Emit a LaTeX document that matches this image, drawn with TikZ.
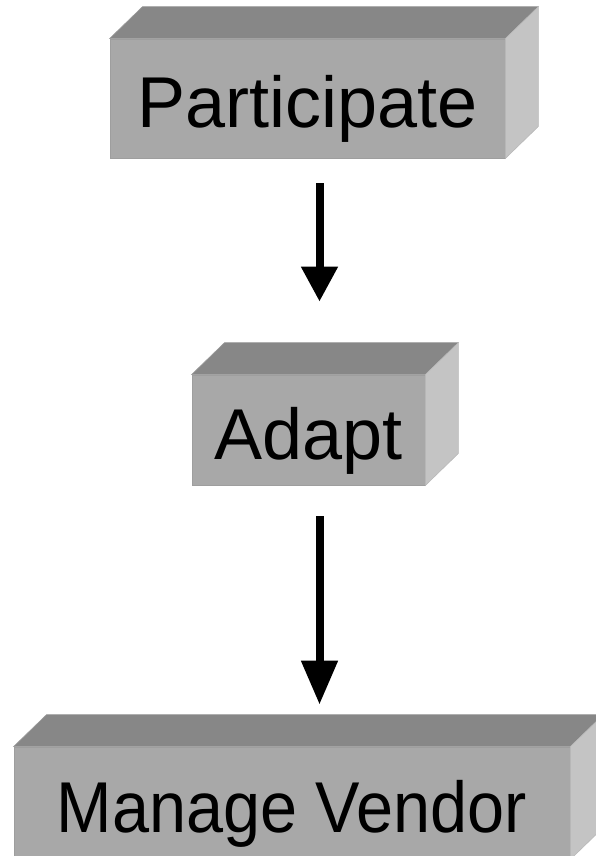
\documentclass[tikz,border=0pt]{standalone}
\usepackage{fontspec}
\setmainfont{Liberation Sans}
\usepackage{tikz}
\usetikzlibrary{calc, arrows.meta}

\definecolor{frontgray}{HTML}{A8A8A8}
\definecolor{frontedge}{HTML}{9E9E9E}
\definecolor{topgray}{HTML}{878787}
\definecolor{topedge}{HTML}{9A9A9A}
\definecolor{sidegray}{HTML}{C4C4C4}
\definecolor{sideedge}{HTML}{B8B8B8}

\begin{document}
\begin{tikzpicture}[x=1pt, y=-1pt,
	block/.style={fill=frontgray, draw=frontedge, line width=0.8pt, inner sep=0pt,
		font=\fontsize{72}{80}\selectfont, text height=58pt, text depth=0pt},
	topface/.style={fill=topgray, draw=topedge, line width=0.6pt},
	sideface/.style={fill=sidegray, draw=sideedge, line width=0.6pt},
	flow/.style={line width=8pt, -{Triangle[width=35pt, length=#1]}},
	flow/.default=35pt]
	\def \dx {33}
	\def \dy {32}

	\useasboundingbox (0,0) rectangle (596,856);

	\node[block, minimum width=395pt, minimum height=119pt] (participate) at (307.5,98.5)
		{Participate};
	\node[block, minimum width=233pt, minimum height=110pt] (adapt) at (308.5,430)
		{Adapt};
	\node[block, minimum width=556pt, minimum height=112pt] (vendor) at (292,803)
		{\scalebox{0.925}[1]{Manage Vendor}};

	\foreach \n in {participate, adapt, vendor} {
		\filldraw[topface] (\n.north west) -- ++(\dx,-\dy)
			-- ($(\n.north east)+(\dx,-\dy)$) -- (\n.north east) -- cycle;
		\filldraw[sideface] (\n.north east) -- ++(\dx,-\dy)
			-- ($(\n.south east)+(\dx,-\dy)$) -- (\n.south east) -- cycle;
	}

	\draw[flow] ($(participate.south)+(12,25)$) -- ($(adapt.north)+(11,-73)$);
	\draw[flow=44pt] ($(adapt.south)+(11,31)$) -- ($(vendor.north)+(27.5,-42)$);
\end{tikzpicture}
\end{document}
